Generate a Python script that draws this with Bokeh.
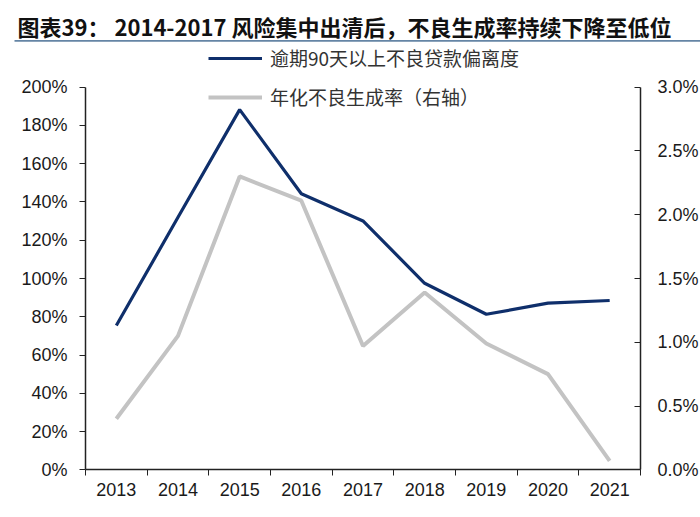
from bokeh.plotting import figure
from bokeh.models import (Range1d, LinearAxis, FixedTicker, PrintfTickFormatter,
                          Legend, LegendItem, ColumnDataSource, Label, BoxAnnotation)
from bokeh.embed import file_html
from bokeh.resources import INLINE

# ---- data ----
years = ["2013", "2014", "2015", "2016", "2017", "2018", "2019", "2020", "2021"]
deviation = [75.4, 132.0, 188.3, 144.3, 130.1, 97.5, 81.3, 87.1, 88.5]   # 逾期90天以上不良贷款偏离度 (%)
npl_gen = [0.40, 1.05, 2.30, 2.11, 0.97, 1.39, 0.99, 0.75, 0.07]          # 年化不良生成率 (%), right axis
left_ticks = [0, 20, 40, 60, 80, 100, 120, 140, 160, 180, 200]
right_ticks = [0.0, 0.5, 1.0, 1.5, 2.0, 2.5, 3.0]
title_text = "图表39：  2014-2017 风险集中出清后，不良生成率持续下降至低位"
label_dev = "逾期90天以上不良贷款偏离度"
label_npl = "年化不良生成率（右轴）"

# ---- layout constants (pixels) ----
W, H = 700, 517
AX_LEFT, AX_RIGHT = 85.0, 640.0      # x pixel of the left / right axis lines
AX_TOP, AX_BOTTOM = 86.7, 469.3      # y pixel of the 200% / 0% ticks
n = len(years)
cw = (AX_RIGHT - AX_LEFT) / n
x_start = -0.5 - AX_LEFT / cw
x_end = (n - 0.5) + (W - AX_RIGHT) / cw
ppu = (AX_BOTTOM - AX_TOP) / (left_ticks[-1] - left_ticks[0])
y_start = left_ticks[0] - (H - AX_BOTTOM) / ppu
y_end = left_ticks[-1] + AX_TOP / ppu
r_scale = (right_ticks[-1] - right_ticks[0]) / (left_ticks[-1] - left_ticks[0])

xs = list(range(n))
src = ColumnDataSource(dict(x=xs, dev=deviation, npl=npl_gen))

p = figure(width=W, height=H, output_backend="svg", toolbar_location=None,
           x_range=Range1d(x_start, x_end), y_range=Range1d(y_start, y_end),
           min_border_left=0, min_border_right=0, min_border_top=0, min_border_bottom=0)
p.extra_y_ranges = {"right": Range1d(y_start * r_scale, y_end * r_scale)}
p.outline_line_color = None
p.xgrid.grid_line_color = None
p.ygrid.grid_line_color = None
p.background_fill_color = "white"
p.border_fill_color = "white"

tick_font = "Liberation Sans"
tick_size = "18px"
axis_col = "#222222"

# x axis: labels at centres, ticks on category boundaries
xa = p.xaxis[0]
xa.fixed_location = left_ticks[0]
xa.bounds = (-0.5, n - 0.5)
xa.ticker = FixedTicker(ticks=xs, minor_ticks=[i - 0.5 for i in range(n + 1)])
xa.major_label_overrides = {i: y for i, y in enumerate(years)}
xa.major_tick_line_color = None
xa.minor_tick_line_color = axis_col
xa.minor_tick_out = 6
xa.minor_tick_in = 0
xa.axis_line_color = axis_col
xa.axis_line_width = 1.5
xa.major_label_text_font = tick_font
xa.major_label_text_font_size = tick_size
xa.major_label_text_color = "#1a1a1a"
xa.major_label_standoff = 7

# left y axis
ya = p.yaxis[0]
ya.fixed_location = -0.5
ya.ticker = FixedTicker(ticks=left_ticks, minor_ticks=[])
ya.formatter = PrintfTickFormatter(format="%d%%")
ya.bounds = (left_ticks[0], left_ticks[-1])
ya.major_tick_out = 6
ya.major_tick_in = 0
ya.major_tick_line_color = axis_col
ya.axis_line_color = axis_col
ya.axis_line_width = 1.5
ya.major_label_text_font = tick_font
ya.major_label_text_font_size = tick_size
ya.major_label_text_color = "#1a1a1a"
ya.major_label_standoff = 12

# right y axis
ra = LinearAxis(y_range_name="right", fixed_location=n - 0.5,
                ticker=FixedTicker(ticks=right_ticks, minor_ticks=[]),
                formatter=PrintfTickFormatter(format="%.1f%%"),
                bounds=(right_ticks[0], right_ticks[-1]))
ra.major_tick_out = 0
ra.major_tick_in = 6
ra.major_tick_line_color = axis_col
ra.axis_line_color = axis_col
ra.axis_line_width = 1.5
ra.major_label_text_font = tick_font
ra.major_label_text_font_size = tick_size
ra.major_label_text_color = "#1a1a1a"
ra.major_label_standoff = 17
p.add_layout(ra, "right")

# lines
r_npl = p.line("x", "npl", source=src, y_range_name="right",
               line_color="#c3c3c3", line_width=4)
r_dev = p.line("x", "dev", source=src, line_color="#0f2f6b", line_width=3.2)

legend = Legend(items=[LegendItem(label=label_dev, renderers=[r_dev]),
                       LegendItem(label=label_npl, renderers=[r_npl])],
                location=(208, H - 110), orientation="vertical",
                glyph_width=54, glyph_height=22, label_height=22, label_standoff=8,
                spacing=12, padding=0, margin=0,
                label_text_font="Noto Sans CJK SC", label_text_font_size="19px",
                label_text_color="#333333",
                background_fill_alpha=0, border_line_color=None)
p.add_layout(legend)

# title and its underline
p.add_layout(Label(x=17, y=25, x_units="canvas", y_units="canvas", text=title_text,
                   text_font="Noto Sans CJK SC", text_font_size="22px",
                   text_font_style="bold", text_color="#111111",
                   text_align="left", text_baseline="middle"))
p.add_layout(BoxAnnotation(left=14, right=W, top=39.5, bottom=41.2,
                           left_units="canvas", right_units="canvas",
                           top_units="canvas", bottom_units="canvas",
                           fill_color="#6585a5", fill_alpha=1, line_color=None))

open("out.html", "w").write(file_html(p, INLINE))
